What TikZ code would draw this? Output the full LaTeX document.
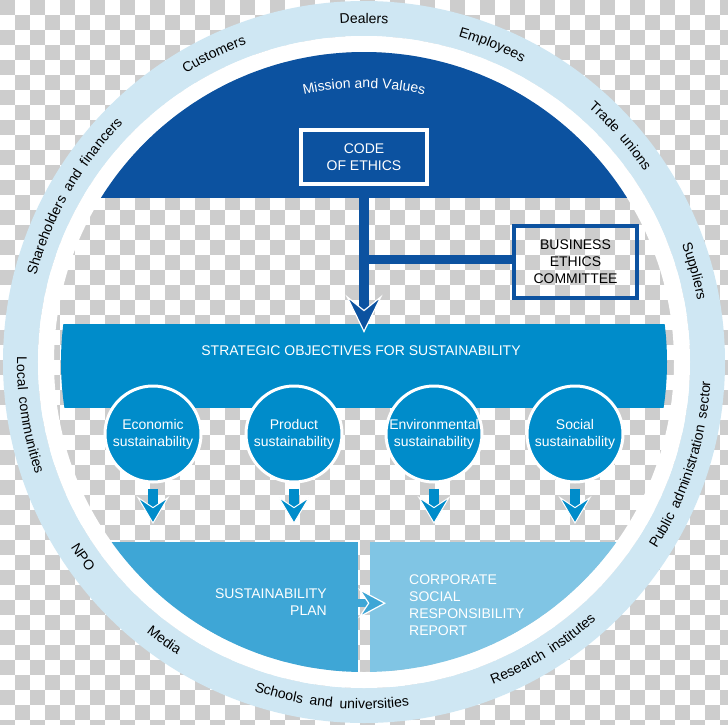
\documentclass[tikz,border=0pt]{standalone}
\usepackage{fontspec}
\setmainfont{Liberation Sans}
\newfontfamily\ringfont[WordSpace=1.8]{Liberation Sans}
\newcommand\ringlabelfont{\ringfont\fontsize{14}{17}\selectfont}
\newcommand\capfont{\fontsize{14}{17}\selectfont\color{white}}
\usepackage{tikz}
\usetikzlibrary{arrows.meta,decorations.text}

\definecolor{navy}{RGB}{12,82,160}
\definecolor{midblue}{RGB}{0,140,202}
\definecolor{planblue}{RGB}{62,166,214}
\definecolor{repblue}{RGB}{128,197,228}
\definecolor{ringblue}{RGB}{207,231,243}
\definecolor{checkgrey}{RGB}{205,205,205}

\begin{document}
\begin{tikzpicture}[x=1pt, y=1pt,
    txt/.style={font=\fontsize{14}{17}\selectfont, align=center, inner sep=0pt},
    coebox/.style={txt, draw=white, line width=4pt, fill=navy, text=white, minimum width=125pt, minimum height=54pt},
    becbox/.style={txt, draw=navy, line width=4pt, minimum width=123pt, minimum height=72pt},
    pillar/.style={txt, circle, draw=white, line width=3pt, fill=midblue, text=white, minimum size=96pt},
    segment/.style={inner sep=0pt, minimum width=304pt, minimum height=130pt},
    mainarrow/.style={draw=navy, line width=10pt, shorten <=2pt, shorten >=-9pt,
      -{Stealth[length=38pt, width=37pt, inset=15pt, color=white, fill=navy, line width=1.2pt]}},
    pillararrow/.style={draw=midblue, line width=10pt, shorten <=5pt, shorten >=18pt,
      -{Stealth[length=28pt, width=33pt, inset=11pt, color=white, fill=midblue, line width=1pt]}},
    planarrow/.style={draw=planblue, line width=8pt, shorten >=-16pt,
      -{Stealth[length=28pt, width=30pt, inset=10pt, color=white, fill=planblue, line width=1.2pt]}}]
  \useasboundingbox (-364,-362) rectangle (364,362);
  \fill[white] (-364,-362) rectangle (364,362);
  % transparent background
  \foreach \j in {0,...,48} {
    \pgfmathtruncatemacro\ph{mod(\j,2)*15}
    \draw[checkgrey, line width=15pt, dash pattern=on 15pt off 15pt, dash phase=\ph pt]
      (-364,{354.5-15*\j}) -- (364,{354.5-15*\j});
  }
  % stakeholder ring
  \fill[ringblue, even odd rule] (0,0) circle (361) (0,0) circle (326);
  \fill[white, even odd rule] (0,0) circle (326) (0,0) circle (310);

  \begin{scope}
    \clip (0,0) circle (310);
    \fill[navy] (-310,164) rectangle (310,310);
    \node[segment, fill=planblue, anchor=north east] (plan) at (-6,-180) {};
    \node[segment, fill=repblue, anchor=north west] (report) at (6,-180) {};
  \end{scope}
  \begin{scope}
    \clip (0,0) circle (303);
    \node[fill=midblue, inner sep=0pt, minimum width=620pt, minimum height=84pt] (sos) at (0,-4) {};
  \end{scope}

  \path[decorate, decoration={text along path, text={|\capfont|Mission and Values}, text align=center}]
    (120:274) arc[start angle=120, end angle=60, radius=274];
  \node[coebox] (coe) at (0,205) {CODE\\OF ETHICS};
  \node[becbox] (bec) at (211.5,100) {BUSINESS\\ETHICS\\COMMITTEE};
  \coordinate (jn) at (0,102.5);
  \draw[navy, line width=9pt] (jn) -- (jn -| bec.west);
  \draw[mainarrow] (coe.south) -- (sos.north);
  \node[txt, text=white] (sostxt) at (-3,11) {STRATEGIC OBJECTIVES FOR SUSTAINABILITY};

  \foreach \i/\x/\word/\tgt in {1/-211/Economic/plan, 2/-70/Product/plan,
      3/70/Environmental/report, 4/211/Social/report} {
    \node[pillar] (p\i) at (\x,-72) {\word\\sustainability};
    \draw[pillararrow] (p\i.south) -- (p\i.south |- \tgt.north);
  }

  \draw[planarrow] ([yshift=4pt]plan.east) -- ([yshift=4pt]report.west);
  \node[txt, text=white, align=right, anchor=east] (plantxt) at (-37,-240.5) {SUSTAINABILITY\\PLAN};
  \node[txt, text=white, align=left, anchor=west] (reptxt) at (45,-243) {CORPORATE\\SOCIAL\\RESPONSIBILITY\\REPORT};

  % stakeholders, upper half
  \foreach \a/\lbl in {90/Dealers, 116/Customers, 68/Employees, 41.4/Trade unions,
      15.4/Suppliers, 150.3/Shareholders and financers}
    \path[decorate, decoration={text along path, text/.expanded={|\noexpand\ringlabelfont|\lbl}, text align=center}]
      ({\a+30}:339) arc[start angle=\a+30, end angle=\a-30, radius=339];
  % stakeholders, lower half
  \foreach \a/\lbl in {-17.9/Public administration sector, -58.1/Research institutes,
      -95.5/Schools and universities, -125.7/Media, -145.2/NPO, -171/Local communities}
    \path[decorate, decoration={text along path, text/.expanded={|\noexpand\ringlabelfont|\lbl}, text align=center}]
      ({\a-30}:347) arc[start angle=\a-30, end angle=\a+30, radius=347];
\end{tikzpicture}
\end{document}
